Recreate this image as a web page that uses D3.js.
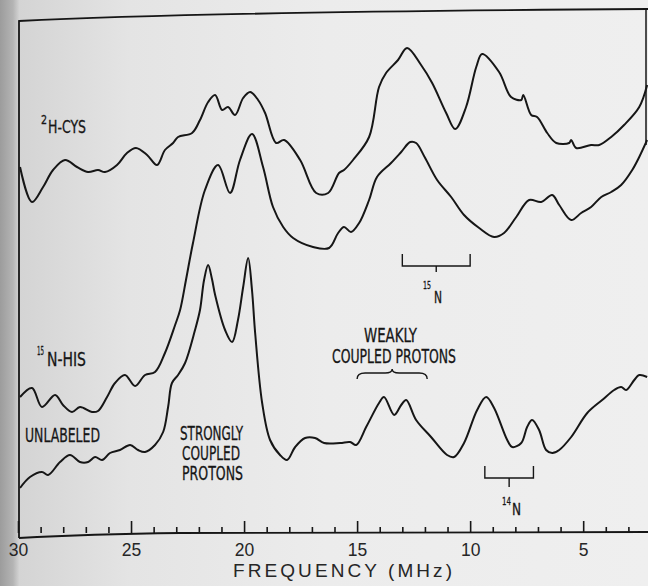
<!DOCTYPE html>
<html>
<head>
<meta charset="utf-8">
<script src="https://cdn.jsdelivr.net/npm/d3@7"></script>
<style>
  body { margin: 0; background: #e8e8e8; }
  svg { display: block; }
</style>
</head>
<body>
<div id="chart"></div>
<script>
// spectra: [frequency MHz, intensity (arb. units)]
const cys2H = [
  [29.91,73.2],[29.38,66.2],[28.89,69.2],[28.45,72.6],[27.92,74.6],[27.39,73.2],[26.90,72.2],
  [26.46,72.6],[26.15,72.2],[25.62,73.6],[25.18,76.0],[24.78,77.0],[24.29,75.6],[23.85,73.6],
  [23.50,76.6],[23.14,78.0],[22.92,79.2],[22.30,80.0],[21.95,82.6],[21.59,86.2],[21.28,87.6],
  [20.97,84.6],[20.71,85.2],[20.40,83.6],[20.04,87.0],[19.73,88.2],[19.38,86.6],[19.07,84.0],
  [18.58,78.0],[18.23,78.6],[17.52,74.6],[16.81,68.0],[16.28,68.0],[15.80,72.0],[15.58,72.6],
  [15.18,74.6],[14.47,79.2],[14.03,89.2],[13.72,92.0],[13.19,94.6],[12.79,97.0],[12.17,93.6],
  [11.68,90.0],[11.06,84.0],[10.66,80.8],[10.18,85.2],[9.73,93.2],[9.47,95.8],[8.72,92.2],
  [8.19,87.2],[7.74,86.6],[7.65,87.6],[7.30,83.6],[7.04,83.2],[6.59,80.0],[6.19,78.0],
  [5.62,78.0],[5.53,78.6],[5.31,77.0],[4.65,77.6],[4.29,77.6],[3.76,79.2],[3.19,81.6],
  [2.52,85.2],[2.17,89.6]
];

const his15N = [
  [29.91,27.2],[29.38,29.0],[28.94,25.2],[28.36,27.6],[28.01,25.6],[27.61,24.2],[27.26,25.2],
  [26.73,24.2],[26.46,24.4],[26.06,27.2],[25.71,30.0],[25.27,31.6],[24.82,29.4],[24.38,31.6],
  [23.94,32.2],[23.50,36.0],[23.05,41.6],[22.83,44.6],[22.57,50.6],[22.26,58.0],[21.73,68.6],
  [21.15,73.6],[20.62,68.0],[20.18,74.6],[19.65,79.8],[19.16,73.2],[18.72,65.2],[18.27,61.2],
  [17.83,59.0],[16.95,57.2],[16.24,57.0],[15.84,60.0],[15.58,61.2],[15.27,60.2],[14.91,62.0],
  [14.47,66.6],[14.12,71.2],[13.50,74.0],[13.05,76.2],[12.65,78.2],[12.39,78.0],[11.99,75.0],
  [11.46,70.6],[10.84,67.2],[10.27,63.6],[9.60,61.0],[8.94,59.2],[8.50,60.0],[7.96,63.2],
  [7.39,66.6],[6.86,66.2],[6.37,67.6],[6.06,65.6],[5.53,62.6],[5.09,64.0],[4.65,65.2],
  [4.20,67.2],[3.76,68.2],[3.32,69.6],[2.83,72.6],[2.52,75.2],[2.17,78.6]
];

const unlabeled = [
  [29.91,9.0],[29.47,11.2],[28.94,12.2],[28.67,11.6],[28.14,14.2],[27.70,15.6],[27.26,14.2],
  [26.90,14.2],[26.59,15.2],[26.28,14.6],[25.93,16.0],[25.49,16.6],[25.04,17.6],[24.69,16.6],
  [24.38,16.2],[23.94,17.6],[23.58,20.2],[23.36,25.2],[23.19,30.0],[22.92,31.6],[22.61,34.0],
  [22.17,40.6],[21.95,44.6],[21.77,50.6],[21.59,53.6],[21.42,50.8],[21.28,47.6],[20.84,40.6],
  [20.53,38.2],[20.27,42.6],[20.04,49.2],[19.82,55.0],[19.65,48.6],[19.51,40.0],[19.20,26.0],
  [18.85,18.6],[18.41,15.6],[18.10,14.6],[17.74,17.2],[17.30,19.0],[16.86,19.0],[16.46,18.0],
  [15.75,18.0],[15.31,18.2],[15.04,17.6],[14.60,21.2],[14.03,26.0],[13.81,27.2],[13.36,23.6],
  [13.05,25.6],[12.83,26.6],[12.39,22.6],[11.73,19.2],[11.02,15.6],[10.71,15.2],[10.27,18.0],
  [9.69,24.6],[9.29,27.2],[8.94,25.0],[8.36,18.6],[8.14,17.2],[7.74,18.0],[7.48,21.2],
  [7.26,22.6],[6.95,20.6],[6.64,16.6],[6.37,16.0],[6.06,16.6],[5.53,19.2],[4.82,24.0],
  [4.16,26.6],[3.63,28.6],[3.32,29.2],[3.10,28.6],[2.74,30.6],[2.52,31.6],[2.17,31.2]
];

const majorTicks = [30, 25, 20, 15, 10, 5];
const minorTicks = [29,28,27,26,24,23,22,21,19,18,17,16,14,13,12,11,9,8,7,6,4,3];

// hyperfine brackets [from, to] in MHz
const n15Bracket = [13.0, 10.0];
const n14Bracket = [9.35, 7.2];
const weakBrace = [15.0, 11.9];

const W = 648, H = 586;
const axisY = 533;
const narrow = '"Liberation Sans Narrow","DejaVu Sans Condensed","Arial Narrow",sans-serif';

const x = d3.scaleLinear().domain([30, 2]).range([18, 651]);
const y = d3.scaleLinear().domain([0, 104]).range([axisY, 13]);

const svg = d3.select("#chart").append("svg")
    .attr("width", W)
    .attr("height", H);

// scanned page background, darker towards the binding
const grad = svg.append("defs").append("linearGradient")
    .attr("id", "paper").attr("x1", "0").attr("x2", "1").attr("y1", "0").attr("y2", "0");
[[0, "#9c9c9c"], [0.02, "#b4b4b4"], [0.03, "#d4d4d4"], [0.2, "#e4e4e4"], [0.5, "#ececec"], [1, "#efefef"]]
  .forEach(s => grad.append("stop").attr("offset", s[0]).attr("stop-color", s[1]));
svg.append("rect").attr("width", W).attr("height", H).attr("fill", "url(#paper)");

const ink = "#161616";

// frame
svg.append("path")
    .attr("d", "M19,538 L19,21 Q200,12 648,9")
    .attr("fill", "none").attr("stroke", ink).attr("stroke-width", 1.8);
svg.append("line")
    .attr("x1", 646).attr("x2", 646).attr("y1", 9).attr("y2", 145)
    .attr("stroke", ink).attr("stroke-width", 1.5);
svg.append("path")
    .attr("d", "M19,538 Q90,534 180," + axisY + " L648," + (axisY - 1))
    .attr("fill", "none").attr("stroke", ink).attr("stroke-width", 1.8);

// ticks pointing up into the plot
svg.append("g")
    .attr("transform", "translate(0," + axisY + ")")
    .call(d3.axisBottom(x).tickValues(minorTicks).tickSizeInner(-6).tickSizeOuter(0).tickFormat(""))
    .call(g => g.select(".domain").remove())
    .call(g => g.selectAll("line").attr("stroke", ink).attr("stroke-width", 1.6));

svg.append("g")
    .attr("transform", "translate(0," + axisY + ")")
    .call(d3.axisBottom(x).tickValues(majorTicks).tickSizeInner(-12).tickSizeOuter(0).tickPadding(11))
    .call(g => g.select(".domain").remove())
    .call(g => g.selectAll("line").attr("stroke", ink).attr("stroke-width", 1.6))
    .call(g => g.selectAll("text")
        .attr("font-family", '"Liberation Sans",Arial,sans-serif')
        .attr("font-size", 17.5)
        .attr("fill", "#262626"));

svg.append("text")
    .attr("x", 233).attr("y", 577)
    .attr("font-family", '"Liberation Sans",Arial,sans-serif')
    .attr("font-size", 19)
    .attr("textLength", 219).attr("lengthAdjust", "spacing")
    .attr("fill", "#262626")
    .text("FREQUENCY (MHz)");

// spectra
const line = d3.line()
    .x(d => x(d[0]))
    .y(d => y(d[1]))
    .curve(d3.curveCatmullRom.alpha(0.5));

[cys2H, his15N, unlabeled].forEach(s => {
  svg.append("path")
      .datum(s)
      .attr("d", line)
      .attr("fill", "none")
      .attr("stroke", ink)
      .attr("stroke-width", 2)
      .attr("stroke-linejoin", "round");
});

// labels
function label(txt, x0, base, size, len) {
  const t = svg.append("text")
      .attr("x", x0).attr("y", base)
      .attr("font-family", narrow)
      .attr("font-size", size)
      .attr("fill", ink)
      .attr("stroke", ink).attr("stroke-width", 0.3)
      .text(txt);
  if (len) t.attr("textLength", len).attr("lengthAdjust", "spacingAndGlyphs");
  return t;
}

label("2", 41, 124, 12, 6);
label("H-CYS", 48, 133, 18, 38);

label("15", 37, 355, 12, 7);
label("N-HIS", 47, 366, 19, 39);

label("UNLABELED", 25, 442, 20, 75);

label("STRONGLY", 180, 440, 19, 63);
label("COUPLED", 182, 460, 19, 58);
label("PROTONS", 182, 480, 19, 61);

label("WEAKLY", 364, 342, 19, 53);
label("COUPLED PROTONS", 332, 363, 19, 124);

label("15", 423, 289, 11, 8);
label("N", 434, 303, 15, 8);

label("14", 502, 505, 11, 9);
label("N", 512, 515, 15, 9);

// brace over the weakly coupled protons
const b0 = x(weakBrace[0]), b1 = x(weakBrace[1]), bm = (b0 + b1) / 2;
svg.append("path")
    .attr("d", "M" + b0 + ",379 Q" + b0 + ",373 " + (b0 + 8) + ",373 L" + (bm - 7) + ",373 Q" + bm + ",373 " + bm + ",369" +
               " Q" + bm + ",373 " + (bm + 7) + ",373 L" + (b1 - 8) + ",373 Q" + b1 + ",373 " + b1 + ",379")
    .attr("fill", "none").attr("stroke", ink).attr("stroke-width", 1.4);

// nitrogen coupling brackets
function bracket(range, yLine, yEnd, tickLen) {
  const a = x(range[0]), b = x(range[1]), m = (a + b) / 2;
  svg.append("path")
      .attr("d", "M" + a + "," + yEnd + " L" + a + "," + yLine + " L" + b + "," + yLine + " L" + b + "," + yEnd +
                 " M" + m + "," + yLine + " L" + m + "," + (yLine + tickLen))
      .attr("fill", "none").attr("stroke", ink).attr("stroke-width", 1.4);
}
bracket(n15Bracket, 266, 254, 6);
bracket(n14Bracket, 478, 466, 9);
</script>
</body>
</html>
